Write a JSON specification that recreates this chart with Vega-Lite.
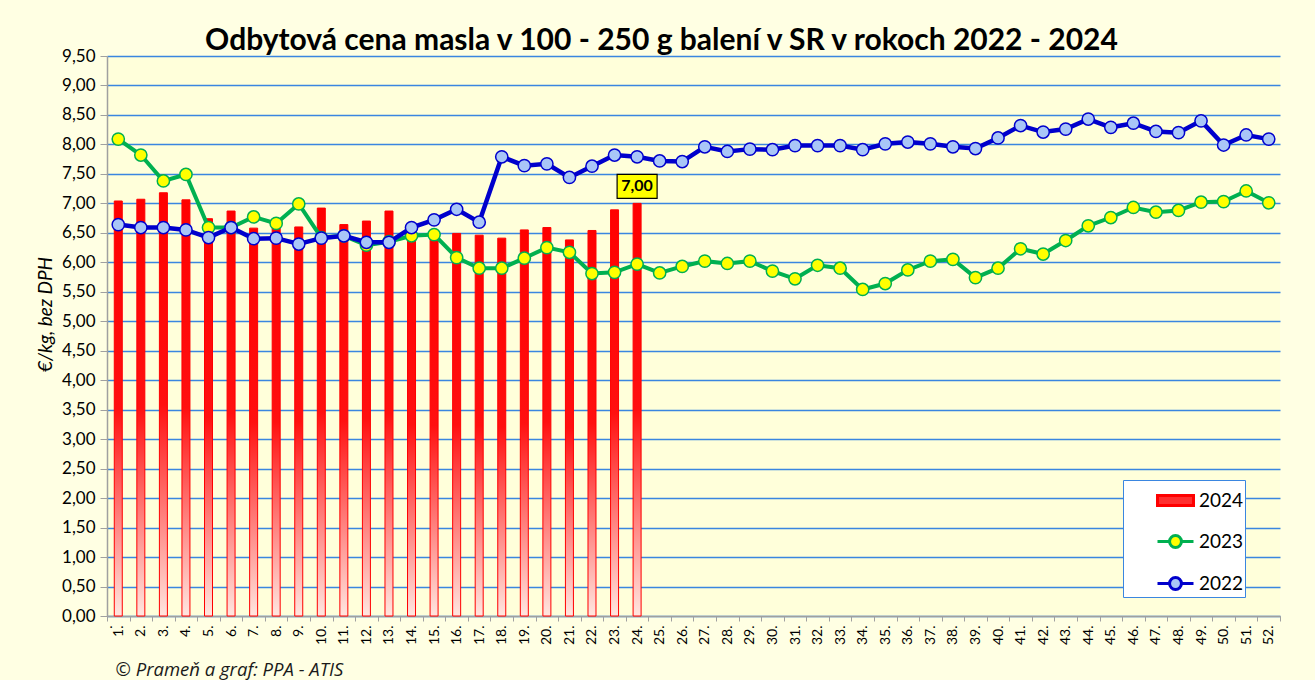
{
  "$schema": "https://vega.github.io/schema/vega-lite/v6.json",
  "width": 1173,
  "height": 560,
  "autosize": {"type": "none"},
  "padding": {"left": 107, "top": 56, "right": 35, "bottom": 64},
  "background": "#FFFFE3",
  "config": {
    "locale": {"number": {"decimal": ",", "thousands": "\u00a0", "grouping": [3], "currency": ["", "\u00a0€"]}},
    "font": "Lato",
    "view": {"fill": "#FFFFDA", "stroke": null},
    "legend": {
      "orient": "none",
      "legendX": 1016,
      "legendY": 424,
      "titleOrient": "left",
      "titleFontSize": 10,
      "titlePadding": 32,
      "padding": 1,
      "fillColor": "#FFFFFF",
      "strokeColor": "#3A86E0",
      "labelFont": "Lato",
      "labelFontSize": 19,
      "labelColor": "#000000",
      "labelOffset": 4,
      "symbolSize": 1296,
      "symbolStrokeWidth": 3,
      "rowPadding": 10
    }
  },
  "title": {
    "text": "Odbytová cena masla v 100 - 250 g balení v SR v rokoch 2022 - 2024",
    "font": "Lato",
    "fontSize": 30,
    "fontWeight": "bold",
    "color": "#000000",
    "anchor": "middle",
    "frame": "group",
    "dx": -32,
    "dy": 33,
    "baseline": "alphabetic",
    "offset": 0
  },
  "datasets": {
    "bars": [
      {"week": 1, "series": "2024", "value": 7.04},
      {"week": 2, "series": "2024", "value": 7.07},
      {"week": 3, "series": "2024", "value": 7.18},
      {"week": 4, "series": "2024", "value": 7.06},
      {"week": 5, "series": "2024", "value": 6.74},
      {"week": 6, "series": "2024", "value": 6.87},
      {"week": 7, "series": "2024", "value": 6.58},
      {"week": 8, "series": "2024", "value": 6.58},
      {"week": 9, "series": "2024", "value": 6.60},
      {"week": 10, "series": "2024", "value": 6.92},
      {"week": 11, "series": "2024", "value": 6.64},
      {"week": 12, "series": "2024", "value": 6.70},
      {"week": 13, "series": "2024", "value": 6.87},
      {"week": 14, "series": "2024", "value": 6.50},
      {"week": 15, "series": "2024", "value": 6.47},
      {"week": 16, "series": "2024", "value": 6.49},
      {"week": 17, "series": "2024", "value": 6.46},
      {"week": 18, "series": "2024", "value": 6.41},
      {"week": 19, "series": "2024", "value": 6.55},
      {"week": 20, "series": "2024", "value": 6.59},
      {"week": 21, "series": "2024", "value": 6.38},
      {"week": 22, "series": "2024", "value": 6.54},
      {"week": 23, "series": "2024", "value": 6.89},
      {"week": 24, "series": "2024", "value": 7.00}
    ],
    "lines": [
      {"week": 1, "series": "2023", "value": 8.09},
      {"week": 2, "series": "2023", "value": 7.82},
      {"week": 3, "series": "2023", "value": 7.38},
      {"week": 4, "series": "2023", "value": 7.49},
      {"week": 5, "series": "2023", "value": 6.59},
      {"week": 6, "series": "2023", "value": 6.59},
      {"week": 7, "series": "2023", "value": 6.77},
      {"week": 8, "series": "2023", "value": 6.66},
      {"week": 9, "series": "2023", "value": 6.99},
      {"week": 10, "series": "2023", "value": 6.42},
      {"week": 11, "series": "2023", "value": 6.45},
      {"week": 12, "series": "2023", "value": 6.29},
      {"week": 13, "series": "2023", "value": 6.35},
      {"week": 14, "series": "2023", "value": 6.45},
      {"week": 15, "series": "2023", "value": 6.47},
      {"week": 16, "series": "2023", "value": 6.08},
      {"week": 17, "series": "2023", "value": 5.90},
      {"week": 18, "series": "2023", "value": 5.90},
      {"week": 19, "series": "2023", "value": 6.07},
      {"week": 20, "series": "2023", "value": 6.25},
      {"week": 21, "series": "2023", "value": 6.17},
      {"week": 22, "series": "2023", "value": 5.81},
      {"week": 23, "series": "2023", "value": 5.83},
      {"week": 24, "series": "2023", "value": 5.97},
      {"week": 25, "series": "2023", "value": 5.82},
      {"week": 26, "series": "2023", "value": 5.93},
      {"week": 27, "series": "2023", "value": 6.02},
      {"week": 28, "series": "2023", "value": 5.98},
      {"week": 29, "series": "2023", "value": 6.02},
      {"week": 30, "series": "2023", "value": 5.85},
      {"week": 31, "series": "2023", "value": 5.72},
      {"week": 32, "series": "2023", "value": 5.95},
      {"week": 33, "series": "2023", "value": 5.90},
      {"week": 34, "series": "2023", "value": 5.54},
      {"week": 35, "series": "2023", "value": 5.64},
      {"week": 36, "series": "2023", "value": 5.87},
      {"week": 37, "series": "2023", "value": 6.02},
      {"week": 38, "series": "2023", "value": 6.05},
      {"week": 39, "series": "2023", "value": 5.74},
      {"week": 40, "series": "2023", "value": 5.90},
      {"week": 41, "series": "2023", "value": 6.23},
      {"week": 42, "series": "2023", "value": 6.14},
      {"week": 43, "series": "2023", "value": 6.37},
      {"week": 44, "series": "2023", "value": 6.62},
      {"week": 45, "series": "2023", "value": 6.76},
      {"week": 46, "series": "2023", "value": 6.93},
      {"week": 47, "series": "2023", "value": 6.85},
      {"week": 48, "series": "2023", "value": 6.88},
      {"week": 49, "series": "2023", "value": 7.02},
      {"week": 50, "series": "2023", "value": 7.03},
      {"week": 51, "series": "2023", "value": 7.21},
      {"week": 52, "series": "2023", "value": 7.01},
      {"week": 1, "series": "2022", "value": 6.64},
      {"week": 2, "series": "2022", "value": 6.59},
      {"week": 3, "series": "2022", "value": 6.59},
      {"week": 4, "series": "2022", "value": 6.55},
      {"week": 5, "series": "2022", "value": 6.42},
      {"week": 6, "series": "2022", "value": 6.59},
      {"week": 7, "series": "2022", "value": 6.40},
      {"week": 8, "series": "2022", "value": 6.41},
      {"week": 9, "series": "2022", "value": 6.31},
      {"week": 10, "series": "2022", "value": 6.41},
      {"week": 11, "series": "2022", "value": 6.45},
      {"week": 12, "series": "2022", "value": 6.34},
      {"week": 13, "series": "2022", "value": 6.34},
      {"week": 14, "series": "2022", "value": 6.59},
      {"week": 15, "series": "2022", "value": 6.72},
      {"week": 16, "series": "2022", "value": 6.90},
      {"week": 17, "series": "2022", "value": 6.68},
      {"week": 18, "series": "2022", "value": 7.79},
      {"week": 19, "series": "2022", "value": 7.64},
      {"week": 20, "series": "2022", "value": 7.67},
      {"week": 21, "series": "2022", "value": 7.44},
      {"week": 22, "series": "2022", "value": 7.63},
      {"week": 23, "series": "2022", "value": 7.82},
      {"week": 24, "series": "2022", "value": 7.79},
      {"week": 25, "series": "2022", "value": 7.72},
      {"week": 26, "series": "2022", "value": 7.71},
      {"week": 27, "series": "2022", "value": 7.96},
      {"week": 28, "series": "2022", "value": 7.88},
      {"week": 29, "series": "2022", "value": 7.92},
      {"week": 30, "series": "2022", "value": 7.91},
      {"week": 31, "series": "2022", "value": 7.98},
      {"week": 32, "series": "2022", "value": 7.98},
      {"week": 33, "series": "2022", "value": 7.98},
      {"week": 34, "series": "2022", "value": 7.91},
      {"week": 35, "series": "2022", "value": 8.01},
      {"week": 36, "series": "2022", "value": 8.04},
      {"week": 37, "series": "2022", "value": 8.01},
      {"week": 38, "series": "2022", "value": 7.96},
      {"week": 39, "series": "2022", "value": 7.93},
      {"week": 40, "series": "2022", "value": 8.11},
      {"week": 41, "series": "2022", "value": 8.32},
      {"week": 42, "series": "2022", "value": 8.21},
      {"week": 43, "series": "2022", "value": 8.26},
      {"week": 44, "series": "2022", "value": 8.43},
      {"week": 45, "series": "2022", "value": 8.29},
      {"week": 46, "series": "2022", "value": 8.36},
      {"week": 47, "series": "2022", "value": 8.22},
      {"week": 48, "series": "2022", "value": 8.20},
      {"week": 49, "series": "2022", "value": 8.40},
      {"week": 50, "series": "2022", "value": 7.99},
      {"week": 51, "series": "2022", "value": 8.16},
      {"week": 52, "series": "2022", "value": 8.09}
    ]
  },
  "encoding": {
    "x": {
      "field": "week",
      "type": "ordinal",
      "scale": {"paddingInner": 0, "paddingOuter": 0},
      "axis": {
        "title": "© Prameň a graf: PPA - ATIS",
        "titleFont": "Open Sans",
        "titleFontStyle": "italic",
        "titleFontWeight": "normal",
        "titleFontSize": 18.5,
        "titleColor": "#1a1a1a",
        "titleAnchor": "start",
        "titleAlign": "left",
        "titleBaseline": "middle",
        "titleX": 8,
        "titleY": 53,
        "labelAngle": -90,
        "labelFontSize": 14,
        "labelColor": "#000000",
        "labelPadding": 4,
        "labelExpr": "datum.label + '.'",
        "tickBand": "extent",
        "tickSize": 5,
        "tickColor": "#A0A0A0",
        "domainColor": "#A0A0A0",
        "domainWidth": 1.5,
        "grid": false
      }
    },
    "y": {
      "field": "value",
      "type": "quantitative",
      "scale": {"domain": [0, 9.5], "nice": false, "zero": true},
      "axis": {
        "title": "€/kg, bez DPH",
        "titleFont": "Lato",
        "titleFontStyle": "italic",
        "titleFontWeight": "normal",
        "titleFontSize": 19,
        "titleColor": "#000000",
        "titlePadding": 6,
        "titleY": 258,
        "values": [0, 0.5, 1, 1.5, 2, 2.5, 3, 3.5, 4, 4.5, 5, 5.5, 6, 6.5, 7, 7.5, 8, 8.5, 9, 9.5],
        "format": ".2f",
        "labelFontSize": 17,
        "labelColor": "#000000",
        "labelPadding": 5,
        "tickSize": 7,
        "tickColor": "#A0A0A0",
        "domainColor": "#A0A0A0",
        "domainWidth": 1.5,
        "gridColor": "#3A86E0",
        "gridWidth": 1.3,
        "gridOpacity": 1
      }
    },
    "stroke": {
      "field": "series",
      "type": "nominal",
      "scale": {"domain": ["2024", "2023", "2022"], "range": ["#FF0000", "#00B050", "#0000CC"]},
      "legend": {
        "title": "\u00a0",
        "labelExpr": "datum.label + '\u00a0\u00a0\u00a0\u00a0\u00a0\u00a0\u00a0\u00a0\u00a0\u00a0\u00a0\u00a0'"
      }
    }
  },
  "layer": [
    {
      "data": {"name": "bars"},
      "mark": {
        "type": "bar",
        "width": 8,
        "fill": {"gradient": "linear", "x1": 0, "y1": 0, "x2": 0, "y2": 1,
          "stops": [{"offset": 0, "color": "#FF0000"}, {"offset": 0.5, "color": "#FF1010"}, {"offset": 1, "color": "#FFE6E0"}]},
        "strokeWidth": 1,
        "opacity": 1
      }
    },
    {
      "data": {"name": "lines"},
      "transform": [{"filter": "datum.week == 1"}],
      "mark": {"type": "point", "size": 0, "filled": true, "opacity": 1},
      "encoding": {
        "fill": {
          "field": "series",
          "type": "nominal",
          "scale": {"domain": ["2024", "2023", "2022"], "range": ["#FF3030", "#FFFF00", "#A9C6F7"]},
          "legend": {
            "title": "\u00a0",
            "labelExpr": "datum.label + '\u00a0\u00a0\u00a0\u00a0\u00a0\u00a0\u00a0\u00a0\u00a0\u00a0\u00a0\u00a0'"
          }
        },
        "shape": {
          "field": "series",
          "type": "nominal",
          "scale": {
            "domain": ["2024", "2023", "2022"],
            "range": [
              "M-1,-0.28H1V0.28H-1Z",
              "M-1,0H-0.33M0.33,0H1M-0.33,0A0.33,0.33 0 1,0 0.33,0A0.33,0.33 0 1,0 -0.33,0Z",
              "M-1,0H-0.33M0.33,0H1M-0.33,0A0.33,0.33 0 1,0 0.33,0A0.33,0.33 0 1,0 -0.33,0Z"
            ]
          },
          "legend": {
            "title": "\u00a0",
            "labelExpr": "datum.label + '\u00a0\u00a0\u00a0\u00a0\u00a0\u00a0\u00a0\u00a0\u00a0\u00a0\u00a0\u00a0'"
          }
        }
      }
    },
    {
      "data": {"name": "lines"},
      "transform": [{"filter": "datum.series == '2023'"}],
      "mark": {"type": "line", "strokeWidth": 4}
    },
    {
      "data": {"name": "lines"},
      "transform": [{"filter": "datum.series == '2023'"}],
      "mark": {"type": "point", "shape": "circle", "filled": true, "fill": "#FFFF00", "size": 150, "strokeWidth": 1.5, "opacity": 1}
    },
    {
      "data": {"name": "lines"},
      "transform": [{"filter": "datum.series == '2022'"}],
      "mark": {"type": "line", "strokeWidth": 4.5}
    },
    {
      "data": {"name": "lines"},
      "transform": [{"filter": "datum.series == '2022'"}],
      "mark": {"type": "point", "shape": "circle", "filled": true, "fill": "#A9C6F7", "size": 150, "strokeWidth": 1.5, "opacity": 1}
    },
    {
      "data": {"name": "bars"},
      "transform": [{"filter": "datum.week == 24"}],
      "mark": {"type": "point", "shape": "M-1,-0.6H1V0.6H-1Z", "size": 1600, "filled": true, "fill": "#FFFF00", "strokeWidth": 1.2, "opacity": 1, "yOffset": -17},
      "encoding": {"stroke": {"value": "#000000"}}
    },
    {
      "data": {"name": "bars"},
      "transform": [{"filter": "datum.week == 24"}],
      "mark": {"type": "text", "dy": -17, "fontSize": 16, "fontWeight": "bold", "font": "Lato", "color": "#000000", "baseline": "middle", "align": "center", "strokeWidth": 0},
      "encoding": {"stroke": {"value": "transparent"}, "text": {"field": "value", "type": "quantitative", "format": ".2f"}}
    }
  ]
}
